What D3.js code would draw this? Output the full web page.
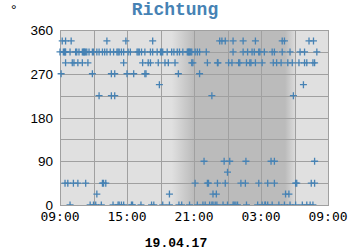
<!DOCTYPE html>
<html>
<head>
<meta charset="utf-8">
<script src="https://cdn.jsdelivr.net/npm/d3@7"></script>
<style>
  body { margin: 0; background: #fff; }
  svg { display: block; }
</style>
</head>
<body>
<svg id="chart" width="350" height="250"></svg>
<script>
// Hours after 18.04.17 09:00, one array per wind direction sector.
const dir337 = [0.2, 0.5, 1.0, 4.2, 5.9, 8.3, 14.3, 14.5, 14.8, 15.5, 16.4, 17.5, 19.9, 20.1, 22.3, 22.7];
const dir315 = [0.0, 0.3, 0.4, 0.45, 0.5, 0.9, 1.4, 1.5, 1.7, 2.0, 2.1, 2.15, 2.2, 2.3, 2.4, 2.6, 2.9, 3.0,
  3.3, 3.5, 3.8, 4.0, 4.2, 4.5, 4.8, 5.1, 5.2, 5.3, 5.5, 5.7, 6.1, 6.3, 6.9, 7.0, 7.1, 7.3, 7.6, 8.1, 8.3,
  8.7, 9.0, 9.1, 9.2, 9.6, 10.0, 10.2, 10.5, 10.7, 11.0, 11.4, 11.5, 11.55, 11.6, 11.7, 11.8, 12.1, 12.3,
  12.5, 13.1, 15.5, 16.4, 16.8, 17.2, 17.4, 17.8, 17.9, 18.3, 19.0, 19.2, 19.9, 20.6, 21.5, 21.9, 23.0];
const dir292 = [0.5, 1.1, 1.25, 1.6, 2.0, 2.5, 5.7, 7.4, 7.9, 8.1, 8.8, 9.4, 9.7, 10.3, 11.8, 11.9, 13.2,
  14.1, 14.15, 15.1, 15.4, 16.0, 16.1, 16.7, 17.0, 17.1, 17.5, 18.1, 19.1, 19.4, 19.8, 20.4, 20.8, 21.4,
  21.9, 22.1, 22.65, 22.8];
const dir270 = [0.1, 2.9, 4.6, 4.9, 6.0, 6.6, 7.6, 7.7, 10.6, 12.5];
const dir247 = [8.9, 21.8];
const dir225 = [3.5, 4.6, 4.9, 13.6, 20.9];
const dir90 = [12.9, 14.7, 15.2, 16.65, 18.9, 19.2, 22.8];
const dir67 = [15.0];
const dir45 = [0.45, 0.7, 1.2, 1.6, 2.3, 3.8, 3.9, 4.1, 12.1, 13.2, 13.3, 14.1, 14.8, 16.2, 16.6, 17.8,
  18.6, 19.2, 21.1, 21.2, 22.5, 22.8];
const dir22 = [3.3, 9.8, 13.7, 14.0, 20.2, 20.5];
const dir0 = [0.9, 2.7, 3.0, 3.2, 3.7, 4.75, 5.2, 5.3, 5.5, 5.7, 6.4, 6.5, 7.25, 8.2, 8.4, 9.2, 9.8, 10.65,
  10.9, 11.6, 12.3, 12.8, 13.0, 13.4, 13.6, 13.7, 13.9, 14.05, 14.6, 15.0, 15.5, 15.6, 15.75, 15.9, 16.7,
  17.7, 18.1, 18.35, 18.4, 18.6, 19.0, 19.6, 20.1, 20.6, 21.1, 21.7, 22.1, 22.4, 22.65];

const sectors = [
  [337.5, dir337], [315, dir315], [292.5, dir292], [270, dir270], [247.5, dir247], [225, dir225],
  [90, dir90], [67.5, dir67], [45, dir45], [22.5, dir22], [0, dir0]
];

const yTicks = [0, 90, 180, 270, 360];
const title = 'Richtung';
const unit = '°';
const dateLabel = '19.04.17';
// night shading: [hours after start, grey level]
const shadeStops = [[0, '#e0e0e0'], [10.0, '#e0e0e0'], [12.0, '#bbbbbb'], [20.15, '#bbbbbb'], [21.2, '#e0e0e0'], [24, '#e0e0e0']];

const start = new Date(2017, 3, 18, 9);
const end = d3.timeHour.offset(start, 24);
const at = h => new Date(start.getTime() + h * 3600e3);

const points = sectors.flatMap(([dir, hs]) => hs.map(h => ({ t: at(h), dir })));

const plotL = 60, plotR = 328, plotT = 30, plotB = 205;
const x = d3.scaleTime().domain([start, end]).range([plotL, plotR]);
const y = d3.scaleLinear().domain([0, 360]).range([plotB, plotT]);

const svg = d3.select('#chart');
const defs = svg.append('defs');

const grad = defs.append('linearGradient')
  .attr('id', 'night')
  .attr('gradientUnits', 'userSpaceOnUse')
  .attr('x1', plotL).attr('x2', plotR).attr('y1', 0).attr('y2', 0);
grad.selectAll('stop')
  .data(shadeStops)
  .join('stop')
  .attr('offset', d => d[0] / 24)
  .attr('stop-color', d => d[1]);

defs.append('clipPath').attr('id', 'plotclip')
  .append('rect')
  .attr('x', plotL - 10).attr('y', 0)
  .attr('width', plotR - plotL + 20).attr('height', plotB);

svg.append('rect')
  .attr('x', plotL).attr('y', plotT)
  .attr('width', plotR - plotL).attr('height', plotB - plotT)
  .attr('fill', 'url(#night)');

// grid
const grid = svg.append('g')
  .attr('stroke', '#a0a0a0')
  .attr('stroke-width', 1)
  .attr('shape-rendering', 'crispEdges');

grid.selectAll('line.v')
  .data(x.ticks(d3.timeHour.every(3)))
  .join('line')
  .attr('class', 'v')
  .attr('x1', d => Math.round(x(d)) + 0.5).attr('x2', d => Math.round(x(d)) + 0.5)
  .attr('y1', plotT).attr('y2', plotB);

grid.selectAll('line.h')
  .data(d3.range(0, 361, 45))
  .join('line')
  .attr('class', 'h')
  .attr('x1', plotL).attr('x2', plotR)
  .attr('y1', d => Math.round(y(d)) + 0.5).attr('y2', d => Math.round(y(d)) + 0.5);

grid.append('rect')
  .attr('x', plotL + 0.5).attr('y', plotT + 0.5)
  .attr('width', plotR - plotL).attr('height', plotB - plotT)
  .attr('fill', 'none');

// markers
const size = 3.5;
svg.append('g')
  .attr('clip-path', 'url(#plotclip)')
  .attr('stroke', '#4682b4')
  .attr('stroke-width', 1.3)
  .attr('fill', 'none')
  .selectAll('path')
  .data(points)
  .join('path')
  .attr('d', d => {
    const px = x(d.t), py = y(d.dir);
    return `M${px - size},${py}H${px + size}M${px},${py - size}V${py + size}`;
  });

// y labels
svg.append('g')
  .selectAll('text')
  .data(yTicks)
  .join('text')
  .attr('x', 53)
  .attr('y', d => y(d) + 5)
  .attr('text-anchor', 'end')
  .attr('font-family', 'Liberation Sans, Arial, sans-serif')
  .attr('font-size', 13.5)
  .attr('fill', '#000')
  .text(d => d);

// x labels, every 6 hours from 09:00
const fmt = d3.timeFormat('%H:%M');
svg.append('g')
  .selectAll('text')
  .data(x.ticks(d3.timeHour.every(3)).filter(d => (d.getHours() - 9 + 24) % 6 === 0))
  .join('text')
  .attr('x', d => x(d))
  .attr('y', 221)
  .attr('text-anchor', 'middle')
  .attr('font-family', 'DejaVu Sans Mono, monospace')
  .attr('font-size', 13)
  .attr('fill', '#000')
  .text(fmt);

svg.append('text')
  .attr('x', 175).attr('y', 15)
  .attr('text-anchor', 'middle')
  .attr('font-family', 'Liberation Mono, Courier New, monospace')
  .attr('font-weight', 'bold')
  .attr('font-size', 18)
  .attr('fill', '#4682b4')
  .text(title);

svg.append('text')
  .attr('x', 11).attr('y', 15)
  .attr('font-family', 'Liberation Sans, Arial, sans-serif')
  .attr('font-size', 14)
  .attr('fill', '#000')
  .text(unit);

svg.append('text')
  .attr('x', 176).attr('y', 247)
  .attr('text-anchor', 'middle')
  .attr('font-family', 'Liberation Mono, Courier New, monospace')
  .attr('font-weight', 'bold')
  .attr('font-size', 13)
  .attr('fill', '#000')
  .text(dateLabel);
</script>
</body>
</html>
